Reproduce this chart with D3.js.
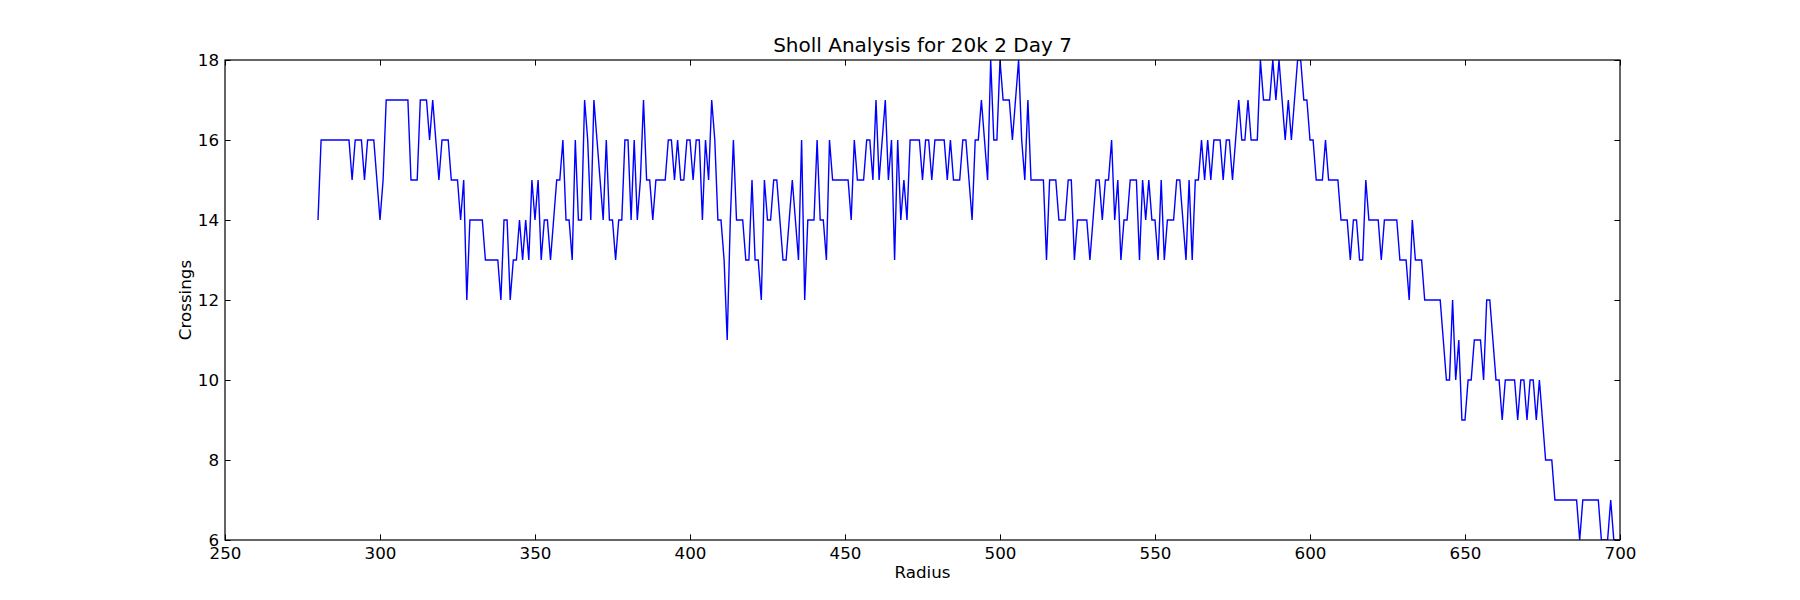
<!DOCTYPE html>
<html>
<head>
<meta charset="utf-8">
<script src="https://cdn.jsdelivr.net/npm/d3@7"></script>
<style>
  body { margin: 0; background: #fff; }
  svg { display: block; font-family: "DejaVu Sans", sans-serif; }
</style>
</head>
<body>
<svg id="chart" width="1800" height="600"></svg>
<script>
// Sholl analysis, one sample per radius unit starting at 280
const title = 'Sholl Analysis for 20k 2 Day 7';
const xLabel = 'Radius';
const yLabel = 'Crossings';
const firstRadius = 280;
const crossings = [
  14,16,16,16,16,16,16,16,16,16, // 280
  16,15,16,16,16,15,16,16,16,15, // 290
  14,15,17,17,17,17,17,17,17,17, // 300
  15,15,15,17,17,17,16,17,16,15, // 310
  16,16,16,15,15,15,14,15,12,14, // 320
  14,14,14,14,13,13,13,13,13,12, // 330
  14,14,12,13,13,14,13,14,13,15, // 340
  14,15,13,14,14,13,14,15,15,16, // 350
  14,14,13,16,14,14,17,16,14,17, // 360
  16,15,14,16,14,14,13,14,14,16, // 370
  16,14,16,14,15,17,15,15,14,15, // 380
  15,15,15,16,16,15,16,15,15,16, // 390
  16,15,16,16,14,16,15,17,16,14, // 400
  14,13,11,14,16,14,14,14,13,13, // 410
  15,13,13,12,15,14,14,15,15,14, // 420
  13,13,14,15,14,13,16,12,14,14, // 430
  14,16,14,14,13,16,15,15,15,15, // 440
  15,15,14,16,15,15,15,16,16,15, // 450
  17,15,16,17,15,16,13,16,14,15, // 460
  14,16,16,16,16,15,16,16,15,16, // 470
  16,16,16,15,16,15,15,15,16,16, // 480
  15,14,16,16,17,16,15,18,16,16, // 490
  18,17,17,17,16,17,18,16,15,17, // 500
  15,15,15,15,15,13,15,15,15,14, // 510
  14,14,15,15,13,14,14,14,14,13, // 520
  14,15,15,14,15,15,16,14,15,13, // 530
  14,14,15,15,15,13,15,14,15,14, // 540
  14,13,15,13,14,14,14,15,15,14, // 550
  13,15,13,15,15,16,15,16,15,16, // 560
  16,16,15,16,16,15,16,17,16,16, // 570
  17,16,16,16,18,17,17,17,18,17, // 580
  18,17,16,17,16,17,18,18,17,17, // 590
  16,16,15,15,15,16,15,15,15,15, // 600
  14,14,14,13,14,14,13,13,15,14, // 610
  14,14,14,13,14,14,14,14,14,13, // 620
  13,13,12,14,13,13,13,12,12,12, // 630
  12,12,12,11,10,10,12,10,11,9,  // 640
  9,10,10,11,11,11,10,12,12,11,  // 650
  10,10,9,10,10,10,10,9,10,10,   // 660
  9,10,10,9,10,9,8,8,8,7,        // 670
  7,7,7,7,7,7,7,6,7,7,           // 680
  7,7,7,7,6,6,6,7,6,6,           // 690
  6                              // 700
];
const xTicks = [250, 300, 350, 400, 450, 500, 550, 600, 650, 700];
const yTicks = [6, 8, 10, 12, 14, 16, 18];

const data = crossings.map((c, i) => ({ r: firstRadius + i, c: c }));

const margin = { top: 60, right: 180, bottom: 60, left: 225 };
const width = 1800 - margin.left - margin.right;
const height = 600 - margin.top - margin.bottom;

const x = d3.scaleLinear().domain([250, 700]).range([0, width]);
const y = d3.scaleLinear().domain([6, 18]).range([height, 0]);

const svg = d3.select('#chart');
const g = svg.append('g')
  .attr('transform', 'translate(' + margin.left + ',' + margin.top + ')');

g.append('clipPath').attr('id', 'plot-clip')
  .append('rect').attr('width', width).attr('height', height);

const line = d3.line()
  .x(d => x(d.r))
  .y(d => y(d.c));

g.append('path')
  .datum(data)
  .attr('clip-path', 'url(#plot-clip)')
  .attr('fill', 'none')
  .attr('stroke', '#0000ff')
  .attr('stroke-width', 1.4)
  .attr('stroke-linejoin', 'miter')
  .attr('d', line);

// ticks point inward on all four sides, labels only bottom/left
const tick = 5.6;
const fontSize = '16.7px';

const axisB = g.append('g')
  .attr('transform', 'translate(0,' + height + ')')
  .call(d3.axisBottom(x).tickValues(xTicks).tickFormat(d3.format('d'))
    .tickSizeInner(-tick).tickSizeOuter(0).tickPadding(7));
const axisT = g.append('g')
  .call(d3.axisTop(x).tickValues(xTicks).tickFormat('')
    .tickSizeInner(-tick).tickSizeOuter(0));
const axisL = g.append('g')
  .call(d3.axisLeft(y).tickValues(yTicks).tickFormat(d3.format('d'))
    .tickSizeInner(-tick).tickSizeOuter(0).tickPadding(6));
const axisR = g.append('g')
  .attr('transform', 'translate(' + width + ',0)')
  .call(d3.axisRight(y).tickValues(yTicks).tickFormat('')
    .tickSizeInner(-tick).tickSizeOuter(0));

[axisB, axisT, axisL, axisR].forEach(a => {
  a.select('.domain').remove();
  a.selectAll('line').attr('stroke', '#000').attr('stroke-width', 1);
  a.selectAll('text')
    .attr('fill', '#000')
    .style('font-family', '"DejaVu Sans", sans-serif')
    .style('font-size', fontSize);
});

// frame
g.append('rect')
  .attr('width', width)
  .attr('height', height)
  .attr('fill', 'none')
  .attr('stroke', '#000')
  .attr('stroke-width', 1.2);

svg.append('text')
  .attr('x', margin.left + width / 2)
  .attr('y', 52)
  .attr('text-anchor', 'middle')
  .style('font-size', '20px')
  .text(title);

svg.append('text')
  .attr('x', margin.left + width / 2)
  .attr('y', 578)
  .attr('text-anchor', 'middle')
  .style('font-size', fontSize)
  .text(xLabel);

svg.append('text')
  .attr('transform', 'translate(191,' + (margin.top + height / 2) + ') rotate(-90)')
  .attr('text-anchor', 'middle')
  .style('font-size', fontSize)
  .text(yLabel);
</script>
</body>
</html>
